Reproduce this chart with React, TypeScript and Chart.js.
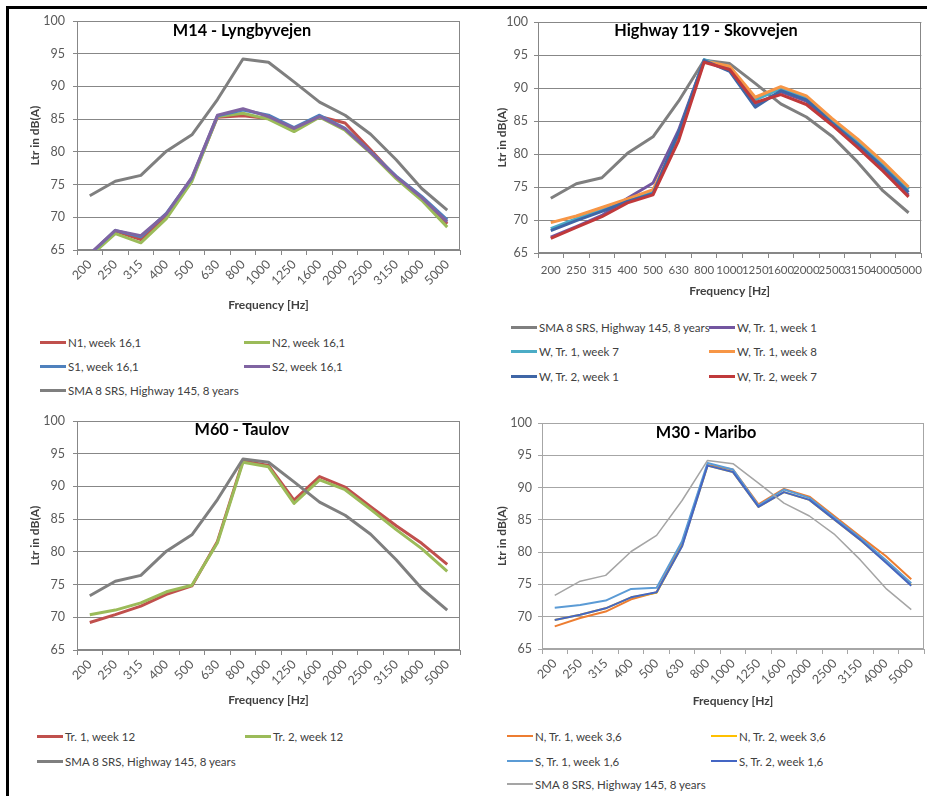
import React, { useEffect, useRef } from 'react';
import { Chart, registerables } from 'chart.js';

Chart.register(...registerables);

// ---------------- DATA ----------------
const FREQUENCIES = ['200', '250', '315', '400', '500', '630', '800', '1000', '1250', '1600', '2000', '2500', '3150', '4000', '5000'];
const Y_TICKS_MIN = 65;
const Y_TICKS_MAX = 100;
const Y_TICKS_STEP = 5;

const SMA_8_SRS = [73.3, 75.5, 76.4, 80.1, 82.6, 88.0, 94.2, 93.7, 90.7, 87.6, 85.6, 82.7, 78.8, 74.4, 71.1];

// M14 - Lyngbyvejen
const M14_N1 = [64.2, 67.9, 66.6, 70.2, 75.8, 85.3, 85.5, 85.1, 83.4, 85.4, 84.4, 80.3, 76.1, 72.9, 69.0];
const M14_N2 = [64.0, 67.5, 66.1, 69.8, 75.5, 85.4, 85.9, 85.0, 83.1, 85.3, 83.3, 79.8, 75.9, 72.6, 68.5];
const M14_S1 = [64.3, 68.0, 67.0, 70.6, 76.0, 85.5, 86.4, 85.6, 83.7, 85.6, 83.6, 80.0, 76.3, 73.2, 69.6];
const M14_S2 = [64.4, 68.0, 67.2, 70.5, 76.1, 85.6, 86.6, 85.4, 83.6, 85.4, 83.5, 79.9, 76.2, 73.0, 69.3];

// Highway 119 - Skovvejen
const H119_TR1_W1 = [67.4, 69.0, 70.7, 73.3, 75.6, 83.6, 94.2, 93.0, 87.5, 89.4, 88.0, 84.6, 81.3, 77.8, 73.8];
const H119_TR1_W7 = [68.7, 70.2, 71.6, 73.0, 74.2, 83.0, 94.3, 93.1, 88.2, 89.9, 88.5, 85.0, 81.9, 78.4, 74.6];
const H119_TR1_W8 = [69.6, 70.6, 71.9, 73.2, 74.6, 82.5, 94.1, 93.3, 88.6, 90.2, 88.8, 85.4, 82.3, 78.8, 75.0];
const H119_TR2_W1 = [68.4, 69.9, 71.3, 72.8, 74.0, 83.2, 94.2, 92.5, 87.1, 89.6, 88.2, 84.7, 81.5, 78.0, 74.2];
const H119_TR2_W7 = [67.2, 68.9, 70.5, 72.6, 73.8, 82.0, 93.9, 92.8, 87.8, 89.0, 87.5, 84.4, 81.0, 77.4, 73.5];

// M60 - Taulov
const M60_TR1 = [69.2, 70.4, 71.7, 73.5, 74.8, 81.6, 93.9, 93.2, 87.9, 91.5, 89.9, 86.9, 84.0, 81.3, 78.1];
const M60_TR2 = [70.4, 71.1, 72.2, 73.9, 74.9, 81.4, 93.7, 93.0, 87.4, 91.0, 89.5, 86.5, 83.4, 80.5, 77.0];

// M30 - Maribo
const M30_N_TR1 = [68.5, 69.8, 70.8, 72.7, 73.8, 81.4, 93.5, 92.8, 87.4, 89.8, 88.6, 85.5, 82.4, 79.4, 75.8];
const M30_N_TR2 = [69.5, 70.3, 71.3, 73.0, 73.7, 81.0, 93.4, 92.4, 87.0, 89.3, 88.1, 85.0, 81.9, 78.5, 74.9];
const M30_S_TR1 = [71.4, 71.8, 72.5, 74.3, 74.5, 81.7, 93.8, 92.8, 87.2, 89.7, 88.4, 85.3, 82.2, 78.8, 75.2];
const M30_S_TR2 = [69.5, 70.3, 71.3, 73.0, 73.8, 80.9, 93.4, 92.4, 87.0, 89.3, 88.1, 85.0, 81.9, 78.4, 74.8];

// ---------------- STYLE / LAYOUT ----------------
const FONT = "Lato, 'Noto Sans', sans-serif";
const TICK_COLOR = '#595959';
const TEXT_COLOR = '#404040';

type Series = { label: string; data: number[]; color: string; width: number };
type Panel = {
  title: string;
  titleX: number;
  titleY: number;
  left: number;
  top: number;
  width: number;
  height: number;
  padTop: number;
  padRight: number;
  yWidth: number;
  xHeight: number;
  yTitlePad: number;
  yTickPad: number;
  rotate: number;
  xTickSize: number;
  xTickPad: number;
  gridColor: string;
  series: Series[];
  legendCols: number[];
  legendRows: number[];
  legendLineWidth: number;
};

const PANELS: Panel[] = [
  {
    title: 'M14 - Lyngbyvejen', titleX: 242, titleY: 29,
    left: 0, top: 0, width: 465, height: 312, padTop: 21, padRight: 5,
    yWidth: 77, xHeight: 62, yTitlePad: 28, yTickPad: 8, rotate: 45, xTickSize: 12.5, xTickPad: 2,
    gridColor: '#878787',
    series: [
      { label: 'N1, week 16,1', data: M14_N1, color: '#c0504d', width: 3 },
      { label: 'N2, week 16,1', data: M14_N2, color: '#9bbb59', width: 3 },
      { label: 'S1, week 16,1', data: M14_S1, color: '#4f81bd', width: 3 },
      { label: 'S2, week 16,1', data: M14_S2, color: '#8064a2', width: 3 },
      { label: 'SMA 8 SRS, Highway 145, 8 years', data: SMA_8_SRS, color: '#7f7f7f', width: 3 },
    ],
    legendCols: [40, 244], legendRows: [342, 366, 390], legendLineWidth: 3,
  },
  {
    title: 'Highway 119 - Skovvejen', titleX: 706, titleY: 29,
    left: 470, top: 0, width: 457, height: 298, padTop: 22, padRight: 2,
    yWidth: 68, xHeight: 45, yTitlePad: 24.5, yTickPad: 6, rotate: 0, xTickSize: 11.5, xTickPad: 5,
    gridColor: '#878787',
    series: [
      { label: 'SMA 8 SRS, Highway 145, 8 years', data: SMA_8_SRS, color: '#7f7f7f', width: 3 },
      { label: 'W, Tr. 1, week 1', data: H119_TR1_W1, color: '#7356a0', width: 3 },
      { label: 'W, Tr. 1, week 7', data: H119_TR1_W7, color: '#4bacc6', width: 3 },
      { label: 'W, Tr. 1, week 8', data: H119_TR1_W8, color: '#f79646', width: 3 },
      { label: 'W, Tr. 2, week 1', data: H119_TR2_W1, color: '#3f66a6', width: 3 },
      { label: 'W, Tr. 2, week 7', data: H119_TR2_W7, color: '#c0393b', width: 3 },
    ],
    legendCols: [511, 709], legendRows: [327, 351, 376], legendLineWidth: 3,
  },
  {
    title: 'M60 - Taulov', titleX: 242, titleY: 428,
    left: 0, top: 400, width: 465, height: 307, padTop: 21, padRight: 5,
    yWidth: 77, xHeight: 57, yTitlePad: 28, yTickPad: 8, rotate: 45, xTickSize: 12.5, xTickPad: 2,
    gridColor: '#878787',
    series: [
      { label: 'Tr. 1, week 12', data: M60_TR1, color: '#c0504d', width: 3 },
      { label: 'Tr. 2, week 12', data: M60_TR2, color: '#9bbb59', width: 3 },
      { label: 'SMA 8 SRS, Highway 145, 8 years', data: SMA_8_SRS, color: '#7f7f7f', width: 3 },
    ],
    legendCols: [37, 245], legendRows: [736, 761], legendLineWidth: 3,
  },
  {
    title: 'M30 - Maribo', titleX: 706, titleY: 431,
    left: 470, top: 400, width: 457, height: 308, padTop: 23, padRight: 3,
    yWidth: 72, xHeight: 59, yTitlePad: 24.5, yTickPad: 6, rotate: 45, xTickSize: 12.5, xTickPad: 2,
    gridColor: '#a6a6a6',
    series: [
      { label: 'N, Tr. 1, week 3,6', data: M30_N_TR1, color: '#ed7d31', width: 2 },
      { label: 'N, Tr. 2, week 3,6', data: M30_N_TR2, color: '#ffc000', width: 2 },
      { label: 'S, Tr. 1, week 1,6', data: M30_S_TR1, color: '#5b9bd5', width: 2 },
      { label: 'S, Tr. 2, week 1,6', data: M30_S_TR2, color: '#4466c4', width: 2 },
      { label: 'SMA 8 SRS, Highway 145, 8 years', data: SMA_8_SRS, color: '#a5a5a5', width: 1.5 },
    ],
    legendCols: [507, 711], legendRows: [736, 761, 784], legendLineWidth: 2,
  },
];

const framePlugin = {
  id: 'plotFrame',
  beforeDatasetsDraw(chart: any, _args: any, opts: any) {
    const { ctx, chartArea } = chart;
    ctx.save();
    ctx.strokeStyle = opts.color || '#878787';
    ctx.lineWidth = 1;
    const l = Math.round(chartArea.left) + 0.5;
    const t = Math.round(chartArea.top) + 0.5;
    const r = Math.round(chartArea.right) - 0.5;
    const b = Math.round(chartArea.bottom) - 0.5;
    ctx.strokeRect(l, t, r - l, b - t);
    ctx.restore();
  },
};

function PanelChart({ p }: { p: Panel }) {
  const ref = useRef<HTMLCanvasElement | null>(null);
  useEffect(() => {
    if (!ref.current) return;
    const n = p.series.length;
    const chart = new Chart(ref.current, {
      type: 'line',
      data: {
        labels: FREQUENCIES,
        datasets: p.series.map((s, i) => ({
          label: s.label,
          data: s.data,
          borderColor: s.color,
          backgroundColor: s.color,
          borderWidth: s.width,
          pointRadius: 0,
          tension: 0,
          fill: false,
          order: n - i,
          borderJoinStyle: 'round' as const,
        })),
      },
      options: {
        animation: false,
        responsive: false,
        maintainAspectRatio: false,
        devicePixelRatio: 1,
        layout: { padding: { top: p.padTop, right: p.padRight, left: 0, bottom: 0 } },
        plugins: {
          legend: { display: false },
          tooltip: { enabled: false },
          title: { display: false },
          plotFrame: { color: p.gridColor },
        } as any,
        scales: {
          x: {
            type: 'category',
            offset: true,
            grid: {
              display: true,
              offset: true,
              drawOnChartArea: false,
              drawTicks: true,
              tickLength: 5,
              color: p.gridColor,
              lineWidth: 1,
            },
            border: { display: true, color: p.gridColor, width: 1 },
            ticks: {
              autoSkip: false,
              maxRotation: p.rotate,
              minRotation: p.rotate,
              padding: p.xTickPad,
              color: TICK_COLOR,
              font: { family: FONT, size: p.xTickSize },
            },
            title: {
              display: true,
              text: 'Frequency [Hz]',
              color: TEXT_COLOR,
              font: { family: FONT, size: 12, weight: 'bold' },
              padding: 0,
            },
            afterFit: (s: any) => {
              s.height = p.xHeight;
            },
          },
          y: {
            type: 'linear',
            min: Y_TICKS_MIN,
            max: Y_TICKS_MAX,
            ticks: {
              stepSize: Y_TICKS_STEP,
              padding: p.yTickPad,
              color: TICK_COLOR,
              font: { family: FONT, size: 12.5 },
            },
            grid: { color: p.gridColor, lineWidth: 1, drawTicks: true, tickLength: 4 },
            border: { display: true, color: p.gridColor, width: 1 },
            title: {
              display: true,
              text: 'Ltr in dB(A)',
              color: TEXT_COLOR,
              font: { family: FONT, size: 12, weight: 'bold' },
              padding: { top: p.yTitlePad, bottom: 0 },
            },
            afterFit: (s: any) => {
              s.width = p.yWidth;
            },
          },
        },
      } as any,
      plugins: [framePlugin],
    });
    return () => chart.destroy();
  }, [p]);

  return (
    <>
      <canvas
        ref={ref}
        width={p.width}
        height={p.height}
        style={{ position: 'absolute', left: p.left, top: p.top, width: p.width, height: p.height }}
      />
      <div
        style={{
          position: 'absolute',
          left: p.titleX,
          top: p.titleY,
          transform: 'translate(-50%, -50%)',
          font: `bold 16.3px ${FONT}`,
          color: '#000',
          whiteSpace: 'nowrap',
        }}
      >
        {p.title}
      </div>
      {p.series.map((s, i) => {
        const x = p.legendCols[i % 2];
        const y = p.legendRows[Math.floor(i / 2)];
        return (
          <div key={s.label} style={{ position: 'absolute', left: x, top: y - 10, height: 20, display: 'flex', alignItems: 'center', whiteSpace: 'nowrap' }}>
            <span style={{ display: 'inline-block', width: 26, height: p.legendLineWidth, background: s.color }} />
            <span style={{ marginLeft: 2, font: `11.5px ${FONT}`, color: TEXT_COLOR }}>{s.label}</span>
          </div>
        );
      })}
    </>
  );
}

export default function App() {
  return (
    <div style={{ position: 'absolute', left: 0, top: 0, width: 927, height: 796, background: '#fff', overflow: 'hidden' }}>
      <div
        style={{
          position: 'absolute',
          left: 6,
          top: 6,
          width: 940,
          height: 820,
          borderLeft: '3px solid #000',
          borderTop: '3px solid #000',
        }}
      />
      {PANELS.map((p) => (
        <PanelChart key={p.title} p={p} />
      ))}
    </div>
  );
}
